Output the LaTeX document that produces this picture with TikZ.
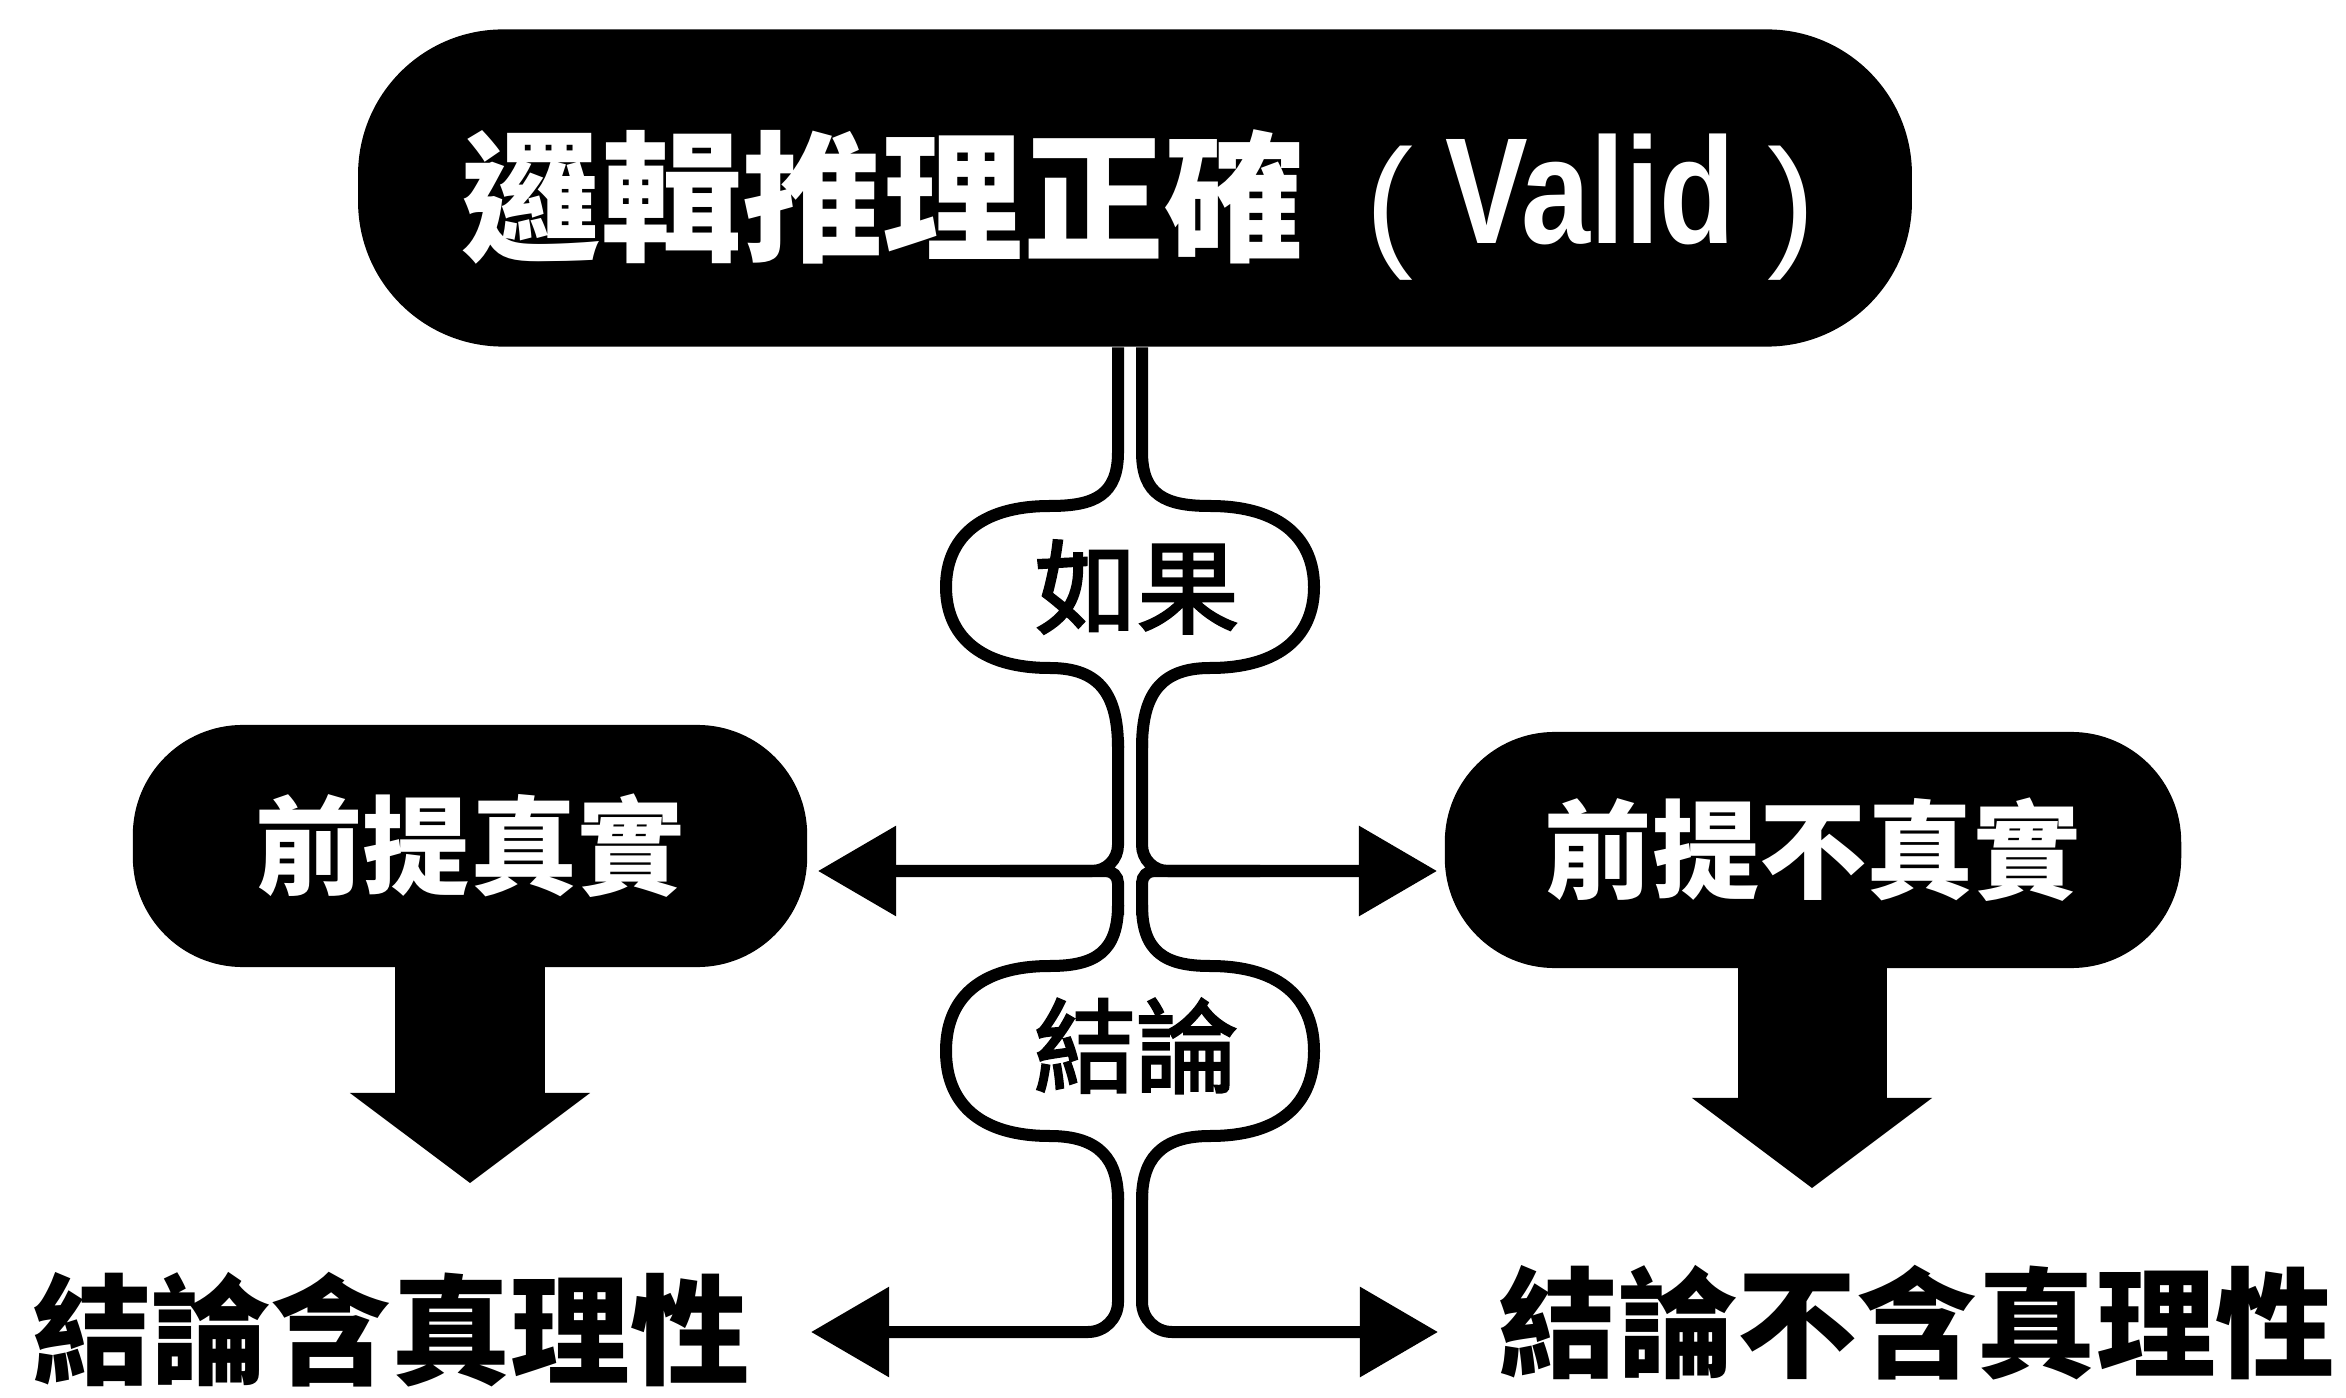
\documentclass[tikz,border=0pt]{standalone}
\usepackage{fontspec}
\usepackage{graphicx}
\setmainfont{Noto Sans CJK TC}
\newfontfamily\cjk{Noto Sans CJK TC}
\newfontfamily\cjkmed[FakeBold=2.5]{Noto Sans CJK TC}
\newfontfamily\lib{Liberation Sans}
\tikzset{
  blackbox/.style={fill=black, text=white, inner sep=0pt, font=\cjk\bfseries\fontsize{30.5pt}{31pt}\selectfont},
  toptxt/.style={text=white, inner sep=0pt, font=\cjk\bfseries\fontsize{40pt}{40pt}\selectfont},
  bulgetxt/.style={inner sep=0pt, font=\cjkmed\fontsize{29pt}{29pt}\selectfont},
  resulttxt/.style={inner sep=0pt, font=\cjk\bfseries\fontsize{34pt}{34pt}\selectfont},
  stem/.style={line width=1.2mm, black},
  smallhead/.style={fill=black, draw=black, line width=4.8mm, line join=miter, miter limit=20},
  bighead/.style={fill=black, draw=black, line width=7.6mm, line join=miter, miter limit=20}
}
\begin{document}
\begin{tikzpicture}[x=0.01cm, y=-0.01cm]
\fill[white] (0,0) rectangle (2346,1398);
\useasboundingbox (0,0) rectangle (2346,1398);

% boxes
\node[blackbox, rounded corners=1.45cm, minimum width=15.53cm, minimum height=3.17cm] (top) at (1135,188) {};
\node[toptxt, anchor=base west] (toptext) at (460,251)
  {邏輯推理正確\hspace{6.1mm}{\lib\mdseries\fontsize{41pt}{41pt}\selectfont (}\hspace{3.2mm}\raisebox{0.7mm}{\scalebox{0.82}[1]{\lib\bfseries\fontsize{43pt}{43pt}\selectfont Valid}}\hspace{3.2mm}{\lib\mdseries\fontsize{41pt}{41pt}\selectfont )}};
\node[blackbox, rounded corners=1.1cm, minimum width=6.74cm, minimum height=2.42cm] (lbox) at (470,846) {前提真實};
\node[blackbox, rounded corners=1.1cm, minimum width=7.36cm, minimum height=2.36cm] (rbox) at (1813,850) {前提不真實};

% bulge labels
\node[bulgetxt] (if) at (1137,587) {如果};
\node[bulgetxt] (concl) at (1136,1046) {結論};

% results
\node[resulttxt] (ltxt) at (391,1330) {結論含真理性};
\node[resulttxt] (rtxt) at (1917,1323) {結論不含真理性};

% coordinates
\coordinate (Lx) at (1118,0);
\coordinate (Rx) at (1142,0);
\coordinate (tipUL) at (818,871);
\coordinate (tipUR) at (1437,871);
\coordinate (tipLL) at (811,1332);
\coordinate (tipLR) at (1438,1332);
\coordinate (tipDL) at (470,1183);
\coordinate (tipDR) at (1812,1188);

% big down arrows: shaft from box bottom, head ending at tip
\fill[black] (lbox.south) ++(-75,-5) rectangle ([xshift=0.75cm, yshift=0.8cm]tipDL);
\filldraw[bighead] ([yshift=0.475cm]tipDL) -- ++(-6,-4.5) -- ++(12,0) -- cycle;
\fill[black] (rbox.south) ++(-75,-5) rectangle ([xshift=0.75cm, yshift=0.8cm]tipDR);
\filldraw[bighead] ([yshift=0.475cm]tipDR) -- ++(-6,-4.5) -- ++(12,0) -- cycle;

% left line: upper bulge
\draw[stem] (top.south -| Lx) -- (1118,452)
  .. controls (1118,495) and (1095,506) .. (1050,506)
  .. controls (978,506) and (946,540) .. (946,587)
  .. controls (946,634) and (978,668) .. (1050,668)
  .. controls (1100,668) and (1118,695) .. (1118,748);
\draw[stem, rounded corners=2.6mm] (1118,740) -- (1118,871) -- ([xshift=0.7cm]tipUL);
\draw[stem, rounded corners=1.2mm] (1118,915) -- (1118,871) -- (1000,871);
\filldraw[smallhead] ([xshift=0.48cm]tipUL) -- ++(6,-3.5) -- ++(0,7) -- cycle;
% left line: lower bulge
\draw[stem] (1118,905)
  .. controls (1118,952) and (1095,966) .. (1050,966)
  .. controls (978,966) and (946,1000) .. (946,1051)
  .. controls (946,1102) and (978,1136) .. (1050,1136)
  .. controls (1100,1136) and (1118,1160) .. (1118,1200);
\draw[stem, rounded corners=3mm] (1118,1192) -- (1118,1332) -- ([xshift=0.7cm]tipLL);
\filldraw[smallhead] ([xshift=0.48cm]tipLL) -- ++(6,-3.5) -- ++(0,7) -- cycle;

% right line: upper bulge
\draw[stem] (top.south -| Rx) -- (1142,452)
  .. controls (1142,495) and (1165,506) .. (1210,506)
  .. controls (1282,506) and (1314,540) .. (1314,587)
  .. controls (1314,634) and (1282,668) .. (1210,668)
  .. controls (1160,668) and (1142,695) .. (1142,748);
\draw[stem, rounded corners=2.6mm] (1142,740) -- (1142,871) -- ([xshift=-0.7cm]tipUR);
\draw[stem, rounded corners=1.2mm] (1142,915) -- (1142,871) -- (1260,871);
\filldraw[smallhead] ([xshift=-0.48cm]tipUR) -- ++(-6,-3.5) -- ++(0,7) -- cycle;
% right line: lower bulge
\draw[stem] (1142,905)
  .. controls (1142,952) and (1165,966) .. (1210,966)
  .. controls (1282,966) and (1314,1000) .. (1314,1051)
  .. controls (1314,1102) and (1282,1136) .. (1210,1136)
  .. controls (1160,1136) and (1142,1160) .. (1142,1200);
\draw[stem, rounded corners=3mm] (1142,1192) -- (1142,1332) -- ([xshift=-0.7cm]tipLR);
\filldraw[smallhead] ([xshift=-0.48cm]tipLR) -- ++(-6,-3.5) -- ++(0,7) -- cycle;
\end{tikzpicture}
\end{document}
